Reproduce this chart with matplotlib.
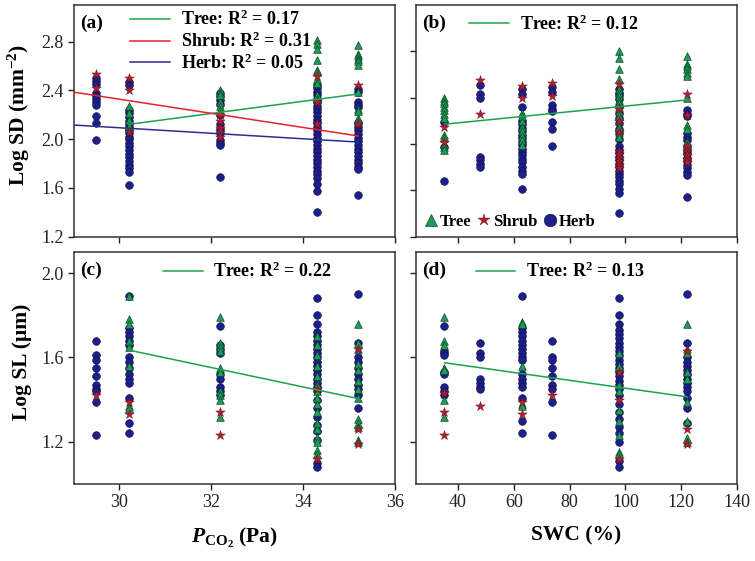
import matplotlib
matplotlib.use('Agg')
import matplotlib.pyplot as plt
from matplotlib.lines import Line2D
from matplotlib.font_manager import FontProperties

plt.rcParams['font.family'] = ['Liberation Serif', 'DejaVu Serif']
plt.rcParams['mathtext.fontset'] = 'custom'
plt.rcParams['mathtext.rm'] = 'Liberation Serif'
plt.rcParams['mathtext.it'] = 'Liberation Serif:italic'
plt.rcParams['mathtext.bf'] = 'Liberation Serif:bold'
if 'mathtext.bfit' in plt.rcParams:
    plt.rcParams['mathtext.bfit'] = 'Liberation Serif:italic:bold'

# ---------------- data ----------------
pco2_sites = [29.5, 30.2, 32.2, 34.3, 35.2]
swc_sites = [35.2, 48.1, 62.8, 73.9, 97.6, 122.2]

# Log SD vs PCO2 (panel a)
sd_pco2_herb = [
    [2.50, 2.48, 2.45, 2.38, 2.35, 2.33, 2.30, 2.28, 2.19, 2.13, 1.99],
    [2.47, 2.44, 2.24, 2.21, 2.18, 2.15, 2.12, 2.10, 2.08, 2.05, 2.02, 2.00, 1.97, 1.94, 1.91, 1.88, 1.85, 1.82, 1.79, 1.76, 1.73, 1.62],
    [2.38, 2.35, 2.32, 2.29, 2.20, 2.12, 2.08, 2.05, 1.99, 1.97, 1.95, 1.69],
    [2.44, 2.42, 2.39, 2.36, 2.33, 2.30, 2.27, 2.25, 2.22, 2.19, 2.16, 2.13, 2.10, 2.07, 2.04, 2.01, 1.98, 1.95, 1.92, 1.89, 1.86, 1.83, 1.80, 1.77, 1.74, 1.71, 1.68, 1.63, 1.57, 1.40],
    [2.41, 2.39, 2.30, 2.28, 2.26, 2.13, 2.10, 2.07, 2.04, 2.01, 1.98, 1.95, 1.92, 1.89, 1.86, 1.83, 1.80, 1.77, 1.75, 1.54],
]
sd_pco2_tree = [
    [],
    [2.27, 2.21, 2.16, 2.11],
    [2.40, 2.38, 2.36, 2.30, 2.27, 2.24],
    [2.81, 2.78, 2.74, 2.65, 2.57, 2.55, 2.49, 2.46, 2.36, 2.33],
    [2.77, 2.70, 2.68, 2.66, 2.64, 2.61, 2.39, 2.25, 2.23, 2.17, 2.15],
]
sd_pco2_shrub = [
    [2.53, 2.42],
    [2.50, 2.40, 2.06],
    [2.20, 2.15, 2.09, 2.06, 2.02],
    [2.52, 2.30, 2.12],
    [2.44, 2.12],
]

# Log SD vs SWC (panel b)
sd_swc_herb = [
    [2.19, 1.97, 1.68],
    [2.51, 2.43, 2.40, 1.89, 1.86, 1.83, 1.80],
    [2.47, 2.43, 2.32, 2.20, 2.17, 2.14, 2.11, 2.08, 2.05, 2.02, 1.99, 1.96, 1.93, 1.90, 1.87, 1.84, 1.80, 1.77, 1.74, 1.61],
    [2.49, 2.45, 2.34, 2.30, 2.28, 2.19, 2.13, 1.98],
    [2.47, 2.44, 2.42, 2.39, 2.33, 2.27, 2.22, 2.18, 2.13, 2.09, 2.04, 1.98, 1.95, 1.92, 1.89, 1.86, 1.83, 1.80, 1.77, 1.74, 1.71, 1.68, 1.65, 1.61, 1.58, 1.40],
    [2.29, 2.26, 2.24, 2.09, 2.06, 2.03, 1.97, 1.94, 1.91, 1.88, 1.85, 1.82, 1.79, 1.76, 1.73, 1.54],
]
sd_swc_tree = [
    [2.40, 2.37, 2.35, 2.32, 2.29, 2.26, 2.22, 2.08, 2.05, 2.00, 1.97, 1.95],
    [],
    [2.27, 2.24, 2.20, 2.15, 2.11, 2.07, 2.03, 1.99],
    [],
    [2.80, 2.74, 2.65, 2.56, 2.47, 2.44, 2.41, 2.38, 2.35, 2.32, 2.28, 2.24, 2.20, 2.15, 2.10, 2.06],
    [2.76, 2.69, 2.67, 2.65, 2.61, 2.59, 2.40, 2.16, 2.13, 2.02, 1.99],
]
sd_swc_shrub = [
    [2.15, 2.02],
    [2.55, 2.26],
    [2.50, 2.40],
    [2.53, 2.41],
    [2.52, 2.30, 2.20, 2.10, 1.94, 1.91, 1.88, 1.85, 1.82, 1.79],
    [2.43, 2.25, 1.98, 1.94, 1.90, 1.87, 1.84],
]

# Log SL vs PCO2 (panel c)
sl_pco2_herb = [
    [1.68, 1.61, 1.59, 1.55, 1.51, 1.47, 1.45, 1.44, 1.39, 1.23],
    [1.89, 1.74, 1.72, 1.70, 1.68, 1.66, 1.60, 1.58, 1.55, 1.52, 1.50, 1.48, 1.41, 1.29, 1.24],
    [1.75, 1.66, 1.64, 1.62, 1.52, 1.50, 1.46, 1.44, 1.42],
    [1.88, 1.80, 1.76, 1.72, 1.70, 1.68, 1.66, 1.64, 1.62, 1.60, 1.58, 1.56, 1.54, 1.52, 1.50, 1.48, 1.46, 1.44, 1.40, 1.36, 1.32, 1.28, 1.25, 1.21, 1.10, 1.08],
    [1.90, 1.67, 1.60, 1.58, 1.55, 1.52, 1.50, 1.47, 1.45, 1.42, 1.36],
]
sl_pco2_tree = [
    [],
    [1.89, 1.78, 1.76, 1.68, 1.65, 1.56, 1.37, 1.36],
    [1.79, 1.67, 1.65, 1.63, 1.55, 1.53, 1.44, 1.42, 1.40, 1.32],
    [1.70, 1.66, 1.61, 1.56, 1.51, 1.47, 1.44, 1.41, 1.38, 1.34, 1.29, 1.26, 1.22, 1.20, 1.16, 1.14],
    [1.76, 1.67, 1.64, 1.57, 1.54, 1.49, 1.45, 1.41, 1.31, 1.29, 1.27, 1.21, 1.20],
]
sl_pco2_shrub = [
    [1.42],
    [1.39, 1.33],
    [1.34, 1.23],
    [1.45, 1.12],
    [1.64, 1.26, 1.19],
]

# Log SL vs SWC (panel d)
sl_swc_herb = [
    [1.75, 1.63, 1.62, 1.61, 1.53, 1.52, 1.46, 1.44, 1.42],
    [1.67, 1.62, 1.60, 1.50, 1.48, 1.46, 1.45],
    [1.89, 1.74, 1.72, 1.70, 1.68, 1.66, 1.64, 1.62, 1.60, 1.59, 1.52, 1.50, 1.48, 1.46, 1.41, 1.30, 1.24],
    [1.68, 1.60, 1.59, 1.55, 1.51, 1.47, 1.45, 1.39, 1.23],
    [1.88, 1.80, 1.76, 1.73, 1.71, 1.69, 1.67, 1.65, 1.63, 1.61, 1.59, 1.57, 1.55, 1.53, 1.51, 1.49, 1.47, 1.45, 1.42, 1.38, 1.34, 1.31, 1.27, 1.24, 1.20, 1.11, 1.08],
    [1.90, 1.67, 1.60, 1.58, 1.56, 1.54, 1.52, 1.50, 1.48, 1.46, 1.44, 1.41, 1.36, 1.29],
]
sl_swc_tree = [
    [1.79, 1.68, 1.66, 1.55, 1.54, 1.40, 1.32],
    [],
    [1.77, 1.76, 1.56, 1.38, 1.37],
    [],
    [1.62, 1.56, 1.47, 1.44, 1.35, 1.30, 1.23, 1.15, 1.14],
    [1.76, 1.64, 1.62, 1.53, 1.50, 1.39, 1.30, 1.22, 1.20],
]
sl_swc_shrub = [
    [1.43, 1.34, 1.23],
    [1.37],
    [1.39, 1.33],
    [1.42],
    [1.53, 1.40, 1.12],
    [1.63, 1.26, 1.19],
]

# regression lines (x endpoints, y endpoints)
fit_a_tree = ([30.2, 35.2], [2.12, 2.37])
fit_a_shrub = ([29.0, 35.2], [2.385, 2.025])
fit_a_herb = ([29.0, 35.2], [2.115, 1.975])
fit_b_tree = ([35.2, 122.2], [2.17, 2.38])
fit_c_tree = ([30.2, 35.2], [1.635, 1.405])
fit_d_tree = ([35.2, 122.2], [1.575, 1.413])

r2_labels_a = ['Tree: R$^{\\mathbf{2}}$ = 0.17', 'Shrub: R$^{\\mathbf{2}}$ = 0.31', 'Herb: R$^{\\mathbf{2}}$ = 0.05']
r2_label_b = 'Tree: R$^{\\mathbf{2}}$ = 0.12'
r2_label_c = 'Tree: R$^{\\mathbf{2}}$ = 0.22'
r2_label_d = 'Tree: R$^{\\mathbf{2}}$ = 0.13'

# ---------------- styles ----------------
C_TREE = '#1f9a58'
C_SHRUB = '#b21e2e'
C_HERB = '#1d1f8a'
L_TREE = '#1ea24e'
L_SHRUB = '#e4232b'
L_HERB = '#2a2e8c'

herb_style = dict(marker='o', s=30, c=C_HERB, edgecolors='#121250', linewidths=0.5, zorder=3)
tree_style = dict(marker='^', s=30, c=C_TREE, edgecolors='#0c4a28', linewidths=0.5, zorder=4)
shrub_style = dict(marker='*', s=52, c=C_SHRUB, edgecolors='#5e0f17', linewidths=0.3, zorder=5)

W, H = 755, 561
fig = plt.figure(figsize=(W / 100, H / 100), dpi=100)


def px_axes(left, top, right, bottom):
    return fig.add_axes([left / W, 1 - bottom / H, (right - left) / W, (bottom - top) / H])


ax_a = px_axes(73.5, 5, 395, 236.5)
ax_b = px_axes(416, 5, 737, 236.5)
ax_c = px_axes(73.5, 252, 395, 484)
ax_d = px_axes(416, 252, 737, 484)


def scatter_groups(ax, sites, herb, tree, shrub):
    for vals, style in [(herb, herb_style), (tree, tree_style), (shrub, shrub_style)]:
        xs = [s for s, v in zip(sites, vals) for _ in v]
        ys = [y for v in vals for y in v]
        ax.scatter(xs, ys, **style)


scatter_groups(ax_a, pco2_sites, sd_pco2_herb, sd_pco2_tree, sd_pco2_shrub)
scatter_groups(ax_b, swc_sites, sd_swc_herb, sd_swc_tree, sd_swc_shrub)
scatter_groups(ax_c, pco2_sites, sl_pco2_herb, sl_pco2_tree, sl_pco2_shrub)
scatter_groups(ax_d, swc_sites, sl_swc_herb, sl_swc_tree, sl_swc_shrub)

lw = 1.1
la_t, = ax_a.plot(*fit_a_tree, color=L_TREE, lw=lw, zorder=6)
la_s, = ax_a.plot(*fit_a_shrub, color=L_SHRUB, lw=lw, zorder=6)
la_h, = ax_a.plot(*fit_a_herb, color=L_HERB, lw=lw, zorder=6)
lb_t, = ax_b.plot(*fit_b_tree, color=L_TREE, lw=lw, zorder=6)
lc_t, = ax_c.plot(*fit_c_tree, color=L_TREE, lw=lw, zorder=6)
ld_t, = ax_d.plot(*fit_d_tree, color=L_TREE, lw=lw, zorder=6)

# axes limits & ticks
for ax in (ax_a, ax_c):
    ax.set_xlim(29, 36)
    ax.set_xticks([30, 32, 34, 36])
for ax in (ax_b, ax_d):
    ax.set_xlim(25, 140)
    ax.set_xticks([40, 60, 80, 100, 120, 140])
ax_a.set_ylim(1.2, 3.1)
ax_b.set_ylim(1.2, 3.2)
for ax in (ax_a, ax_b):
    ax.set_yticks([1.2, 1.6, 2.0, 2.4, 2.8])
for ax in (ax_c, ax_d):
    ax.set_ylim(1.0, 2.1)
    ax.set_yticks([1.2, 1.6, 2.0])

for ax in (ax_a, ax_b, ax_c, ax_d):
    ax.tick_params(direction='out', length=4, width=1, labelsize=13, colors='#222222',
                   top=False, right=False, pad=3)
    for sp in ax.spines.values():
        sp.set_linewidth(1.1)
        sp.set_color('#333333')
    ax.yaxis.set_major_formatter(matplotlib.ticker.FormatStrFormatter('%.1f'))

ax_a.tick_params(labelbottom=False)
ax_b.tick_params(labelbottom=False, labelleft=False)
ax_d.tick_params(labelleft=False)

lab_font = dict(fontsize=15.5, fontweight='bold')
ax_a.set_ylabel('Log SD (mm$^{\\mathbf{-2}}$)', **lab_font)
ax_c.set_ylabel('Log SL (\u03bcm)', **lab_font)
ax_a.yaxis.set_label_coords(-0.128, 0.525)
ax_c.yaxis.set_label_coords(-0.128, 0.525)
ax_c.set_xlabel('$\\mathbfit{P}_{\\mathbf{CO_2}}$ (Pa)', **lab_font)
ax_d.set_xlabel('SWC (%)', **lab_font)
ax_c.xaxis.set_label_coords(0.5, -0.18)
ax_d.xaxis.set_label_coords(0.5, -0.18)

# panel letters
for ax, lab in [(ax_a, '(a)'), (ax_b, '(b)'), (ax_c, '(c)'), (ax_d, '(d)')]:
    ax.text(0.02, 0.96, lab, transform=ax.transAxes, fontsize=14, fontweight='bold',
            va='top', ha='left', zorder=10)

leg_prop = FontProperties(family='Liberation Serif', weight='bold', size=13)
leg_kw = dict(frameon=False, handlelength=2.2, handletextpad=0.6, labelspacing=0.12,
              borderaxespad=0, borderpad=0.0, prop=leg_prop)
ax_a.legend([la_t, la_s, la_h], r2_labels_a, loc='upper left', bbox_to_anchor=(0.176, 0.978), **leg_kw)
leg_b1 = ax_b.legend([lb_t], [r2_label_b], loc='upper left', bbox_to_anchor=(0.165, 0.96), **leg_kw)
ax_b.add_artist(leg_b1)
ax_c.legend([lc_t], [r2_label_c], loc='upper left', bbox_to_anchor=(0.278, 0.958), **leg_kw)
ax_d.legend([ld_t], [r2_label_d], loc='upper left', bbox_to_anchor=(0.186, 0.958), **leg_kw)

# marker legend in (b)
mk_prop = FontProperties(family='Liberation Serif', weight='bold', size=12)
mk_handles = [
    Line2D([], [], ls='none', marker='^', markersize=9, markerfacecolor=C_TREE, markeredgecolor='#0c4a28', markeredgewidth=0.5),
    Line2D([], [], ls='none', marker='*', markersize=9, markerfacecolor=C_SHRUB, markeredgecolor='#5e0f17', markeredgewidth=0.3),
    Line2D([], [], ls='none', marker='o', markersize=9, markerfacecolor=C_HERB, markeredgecolor='#121250', markeredgewidth=0.5),
]
ax_b.legend(mk_handles, ['Tree', 'Shrub', 'Herb'], loc='lower left', bbox_to_anchor=(0.025, 0.03),
            ncol=3, frameon=False, handlelength=0.8, handletextpad=0.15, columnspacing=0.35,
            borderaxespad=0, borderpad=0.0, prop=mk_prop)

fig.savefig('out.png', dpi=100)
